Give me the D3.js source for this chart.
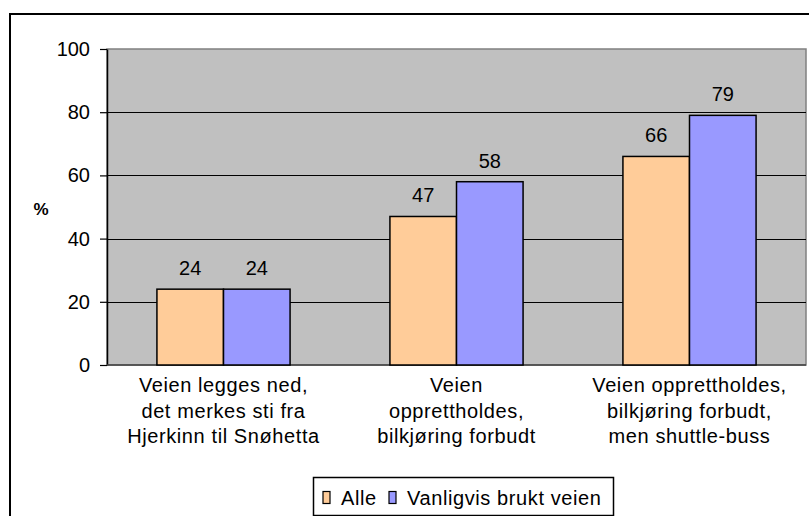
<!DOCTYPE html>
<html>
<head>
<meta charset="utf-8">
<script src="https://cdn.jsdelivr.net/npm/d3@7"></script>
<style>
  body { margin: 0; background: #fff; }
  svg text { font-family: "Liberation Sans", Arial, sans-serif; fill: #000; }
  .wide { letter-spacing: 0.6px; }
</style>
</head>
<body>
<svg id="chart"></svg>
<script>
// categories (each label split into lines)
const categories = [
  ["Veien legges ned,", "det merkes sti fra", "Hjerkinn til Snøhetta"],
  ["Veien", "opprettholdes,", "bilkjøring forbudt"],
  ["Veien opprettholdes,", "bilkjøring forbudt,", "men shuttle-buss"]
]
const seriesNames = ["Alle", "Vanligvis brukt veien"]
const alle = [24, 47, 66]
const vanligvis = [24, 58, 79]
const yTickValues = [0, 20, 40, 60, 80, 100]
const colors = ["#FFCC99", "#9999FF"]

const width = 809, height = 516
const plot = { left: 107, top: 49, right: 806, bottom: 365 }

const svg = d3.select('#chart')
  .attr('width', width)
  .attr('height', height)

// outer frame (runs off the right and bottom edge)
svg.append('rect')
  .attr('x', 10).attr('y', 14)
  .attr('width', 820).attr('height', 520)
  .attr('fill', '#fff')
  .attr('stroke', '#000')
  .attr('stroke-width', 2)

const x0 = d3.scaleBand()
  .domain(d3.range(categories.length))
  .range([plot.left, plot.right])

const x1 = d3.scaleBand()
  .domain(d3.range(seriesNames.length))
  .range([0, x0.bandwidth()])
  .paddingOuter(0.75)

const y = d3.scaleLinear()
  .domain([0, 100])
  .range([plot.bottom, plot.top])

// plot area
svg.append('rect')
  .attr('x', plot.left).attr('y', plot.top)
  .attr('width', plot.right - plot.left)
  .attr('height', plot.bottom - plot.top)
  .attr('fill', '#C0C0C0')
  .attr('stroke', '#808080')
  .attr('stroke-width', 1.5)

// gridlines
svg.append('g')
  .selectAll('line')
  .data(yTickValues.filter(d => d > 0 && d < 100))
  .join('line')
    .attr('x1', plot.left).attr('x2', plot.right)
    .attr('y1', d => Math.round(y(d)) + 0.5)
    .attr('y2', d => Math.round(y(d)) + 0.5)
    .attr('stroke', '#000')
    .attr('stroke-width', 1)

// y axis
const yAxis = d3.axisLeft(y)
  .tickValues(yTickValues)
  .tickSize(7)
  .tickSizeOuter(0)
  .tickPadding(10)

const ya = svg.append('g')
  .attr('transform', `translate(${plot.left}, 0)`)
  .call(yAxis)
ya.select('.domain').attr('stroke', '#000').attr('stroke-width', 1.5)
ya.selectAll('.tick line').attr('stroke', '#000').attr('stroke-width', 1.2)
ya.selectAll('.tick text')
  .attr('font-size', 20)
  .style('font-family', '"Liberation Sans", Arial, sans-serif')

// x baseline
svg.append('line')
  .attr('x1', plot.left).attr('x2', plot.right)
  .attr('y1', plot.bottom).attr('y2', plot.bottom)
  .attr('stroke', '#404040')
  .attr('stroke-width', 1.5)

// y title
svg.append('text')
  .attr('x', 41).attr('y', 215)
  .attr('text-anchor', 'middle')
  .attr('font-size', 17)
  .attr('font-weight', 'bold')
  .text('%')

// bars
const series = [alle, vanligvis]
const groups = svg.append('g')
  .selectAll('g')
  .data(categories.map((c, i) => series.map((s, j) => ({ cat: i, ser: j, value: s[i] }))))
  .join('g')
    .attr('transform', (d, i) => `translate(${x0(i)}, 0)`)

groups.selectAll('rect')
  .data(d => d)
  .join('rect')
    .attr('x', d => x1(d.ser))
    .attr('y', d => y(d.value))
    .attr('width', x1.bandwidth())
    .attr('height', d => y(0) - y(d.value))
    .attr('fill', d => colors[d.ser])
    .attr('stroke', '#000')
    .attr('stroke-width', 1.5)

groups.selectAll('text.value')
  .data(d => d)
  .join('text')
    .attr('class', 'value')
    .attr('x', d => x1(d.ser) + x1.bandwidth() / 2)
    .attr('y', d => y(d.value) - 14)
    .attr('text-anchor', 'middle')
    .attr('font-size', 20)
    .text(d => d.value)

// category labels
const catLabels = svg.append('g')
  .selectAll('text')
  .data(categories)
  .join('text')
    .attr('class', 'wide')
    .attr('x', (d, i) => x0(i) + x0.bandwidth() / 2)
    .attr('y', 392)
    .attr('text-anchor', 'middle')
    .attr('font-size', 20)

catLabels.selectAll('tspan')
  .data(d => d)
  .join('tspan')
    .attr('x', function () { return this.parentNode.getAttribute('x') })
    .attr('dy', (d, i) => i === 0 ? 0 : 25.5)
    .text(d => d)

// legend
const legend = svg.append('g')
legend.append('rect')
  .attr('x', 313.5).attr('y', 477.5)
  .attr('width', 300).attr('height', 38)
  .attr('fill', '#fff')
  .attr('stroke', '#000')
  .attr('stroke-width', 1.5)

const legendX = [323, 389]
const items = legend.selectAll('g.item')
  .data(seriesNames)
  .join('g')
    .attr('class', 'item')
    .attr('transform', (d, i) => `translate(${legendX[i]}, 0)`)

items.append('rect')
  .attr('x', 0).attr('y', 491.5)
  .attr('width', 7).attr('height', 12)
  .attr('fill', (d, i) => colors[i])
  .attr('stroke', '#000')
  .attr('stroke-width', 1.2)

items.append('text')
  .attr('class', 'wide')
  .attr('x', 18).attr('y', 505)
  .attr('font-size', 20)
  .text(d => d)
</script>
</body>
</html>
